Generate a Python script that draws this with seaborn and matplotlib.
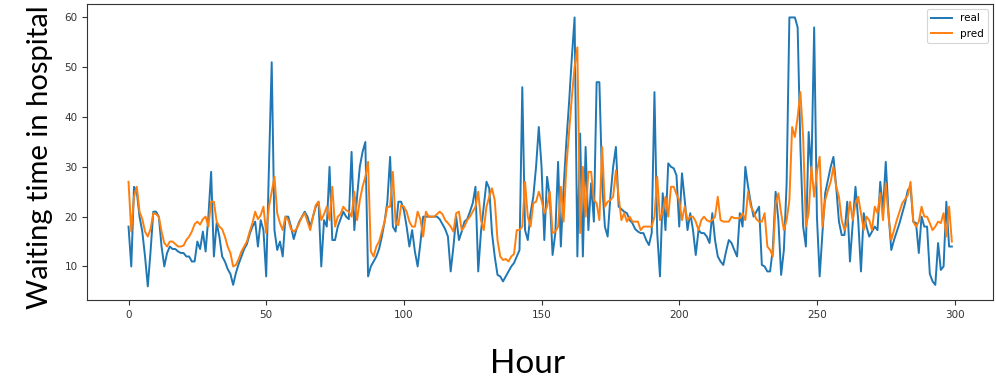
import numpy as np
import pandas as pd
import matplotlib
matplotlib.use("Agg")
import matplotlib.pyplot as plt
import seaborn as sns

real = [18, 10, 26, 25, 20, 17, 12, 6, 13, 21, 21, 20, 14, 10, 12.7, 14, 13.5, 13.5, 13, 12.7,
        12.7, 12, 12, 11, 11, 15, 13.5, 17, 13, 20, 29, 12, 18.7, 16, 12, 11, 9.5, 8.5, 6.3, 8.7,
        10.5, 12, 13.5, 14.5, 16.5, 18, 19, 14, 19.3, 17.3, 8, 30, 51, 17.3, 13.3, 15, 12, 20, 20, 18,
        15.5, 17.5, 19, 20, 21, 20, 18, 20, 22, 23, 10, 19.3, 18, 30, 15.3, 15.3, 18, 19.5, 21, 20,
        19.5, 33, 17.3, 24, 30, 33, 35, 8, 10, 11, 12, 13.5, 16, 19, 23, 32, 18, 17, 23, 23,
        21.3, 18, 14, 17.3, 13, 10, 14.7, 20, 20, 20, 20, 20, 20, 19.5, 18.5, 17.5, 16, 9, 14, 20,
        15.3, 17, 19, 19.5, 21, 22.7, 26, 9, 17, 22, 27, 25.7, 16.7, 12, 8.3, 8, 7, 8, 9, 10,
        10.7, 12, 13.3, 46, 17.3, 15.3, 20.7, 24, 30, 38, 30, 15.3, 28, 24, 12.3, 16.7, 31, 14, 25.7, 35,
        43, 52, 60, 12, 36.7, 12, 34, 17.3, 26.7, 19, 47, 47, 26.7, 18, 16, 24, 30, 34, 22, 21.5,
        21, 20.7, 19.3, 18.7, 17.5, 17, 16.7, 16.7, 15.3, 14.3, 16.7, 45, 16.7, 8, 24.7, 17.3, 30.7, 30, 29.7, 28.3,
        18, 28.7, 23.3, 17.3, 20.7, 17.3, 12.3, 17.3, 16.7, 16.7, 16, 14.7, 20.7, 15.3, 12, 11, 10.3, 13, 15.3, 14.7,
        13.3, 12, 20.7, 18, 30, 26, 22.7, 20, 21, 22, 10.3, 10, 9, 9, 13.7, 25, 19.3, 8.3, 13.3, 26.7,
        60, 60, 60, 58, 34, 18, 14, 37, 29, 58, 20, 8, 16.7, 24.7, 27.3, 30, 32, 26, 19, 16.3,
        16.3, 23, 11, 18.7, 26, 19.3, 9, 20.7, 18, 16, 17, 18, 17.3, 27, 21.3, 31, 20.7, 13.3, 15.3, 17,
        18.7, 20.7, 22.7, 25.3, 26, 19, 18.7, 12.7, 20, 18, 18, 8.5, 7, 6.3, 14.7, 9.3, 10, 23, 14, 14]

pred = [27, 17, 24, 26, 21, 19.5, 17, 16, 17.5, 20.7, 20.5, 20, 17, 14.7, 14, 15, 15, 14.5, 14, 14,
        14.2, 15.3, 16, 17, 18.5, 19, 18.4, 19.5, 20, 18, 23, 23, 19, 18, 17.5, 16, 14, 12.7, 10, 10.3,
        11.5, 13, 14, 15, 17, 18.7, 21, 19.5, 20.3, 22, 16.7, 22, 25, 28, 20.7, 18.7, 17.3, 20, 19.3, 17.5,
        17, 17.5, 18.7, 20, 20.7, 19, 17.3, 20, 22.3, 23, 19.3, 20.5, 22, 19.3, 26, 18, 20, 20.5, 22, 21.3,
        21, 20, 25, 19.3, 23.3, 26, 28, 31, 13, 12, 14, 15, 17, 19, 22, 22, 29, 18.7, 18.3, 22.3,
        22, 21, 19, 18, 18, 21, 19.5, 16, 21, 20, 20, 20, 20.5, 21, 20.5, 19.3, 18.7, 18, 17, 20.7,
        21, 17.3, 18, 19.3, 20, 21, 22, 25, 19.3, 17.3, 22, 24, 25.7, 23.3, 15.3, 12, 11.3, 11.5, 11, 12,
        12.5, 17.3, 17.3, 18, 27, 20, 18, 22.7, 23, 25, 23.3, 20.7, 22, 25, 16.7, 17, 18, 26, 19, 30,
        37, 44, 50, 54, 16.7, 30, 20, 29, 29, 23.3, 22.7, 19.3, 34, 22, 23, 23.3, 24, 29.3, 24, 19.3,
        20.7, 19, 20, 19, 19, 19, 17.3, 18, 18, 18, 18, 20, 28, 19.3, 21, 24, 20, 26, 26, 24.5,
        23.3, 19.3, 22, 19.3, 20, 20, 19, 17.3, 19.3, 20, 19.3, 19, 19.3, 20, 24, 19.3, 19, 19, 19, 20,
        19.7, 19.7, 19.7, 20.7, 19.3, 25, 22, 21, 19.5, 19, 19, 20.7, 14, 13.3, 12, 22.7, 24.7, 20.7, 17.3, 19.3,
        23.3, 38, 36, 40, 45, 36, 18, 20.7, 30, 24, 29, 32, 18, 23.3, 25.3, 27, 30, 26, 24, 19.3,
        17.3, 18.7, 23, 19.3, 22.7, 24, 20.7, 17.3, 20, 19.3, 17.3, 22, 20.7, 24.7, 19.3, 26.7, 20, 15.3, 17.3, 19.3,
        21, 22.7, 23.5, 24.3, 27, 19, 18, 19, 22, 20, 20, 18.7, 17.3, 18, 19, 18.7, 20.7, 16, 22, 15]

hours = list(range(len(real)))

df = pd.DataFrame({
    "hour": hours * 2,
    "value": real + pred,
    "series": ["real"] * len(real) + ["pred"] * len(pred),
})

fig = plt.figure(figsize=(9.96, 3.80), dpi=100)
ax = fig.add_axes([0.0877, 0.211, 0.9093, 0.7785])
sns.lineplot(data=df, x="hour", y="value", hue="series",
             palette={"real": "#1f77b4", "pred": "#ff7f0e"},
             linewidth=1.4, ax=ax, estimator=None)

ax.set_xticks([0, 50, 100, 150, 200, 250, 300])
ax.set_yticks([10, 20, 30, 40, 50, 60])
ax.tick_params(labelsize=7.5, colors="#333333", length=3.5, width=0.8)
for s in ax.spines.values():
    s.set_linewidth(0.8)
    s.set_color("#333333")

ax.set_xlabel("Hour", fontsize=24, family=["Lato", "DejaVu Sans"])
ax.xaxis.set_label_coords(0.486, -0.165)
ax.set_ylabel("Waiting time in hospital", fontsize=21, family=["Lato", "DejaVu Sans"])
ax.yaxis.set_label_coords(-0.038, 0.481)

leg = ax.legend(loc="upper right", fontsize=7.5, title=None, frameon=True)
leg.get_frame().set_linewidth(0.8)

fig.savefig("out.png", dpi=100)
